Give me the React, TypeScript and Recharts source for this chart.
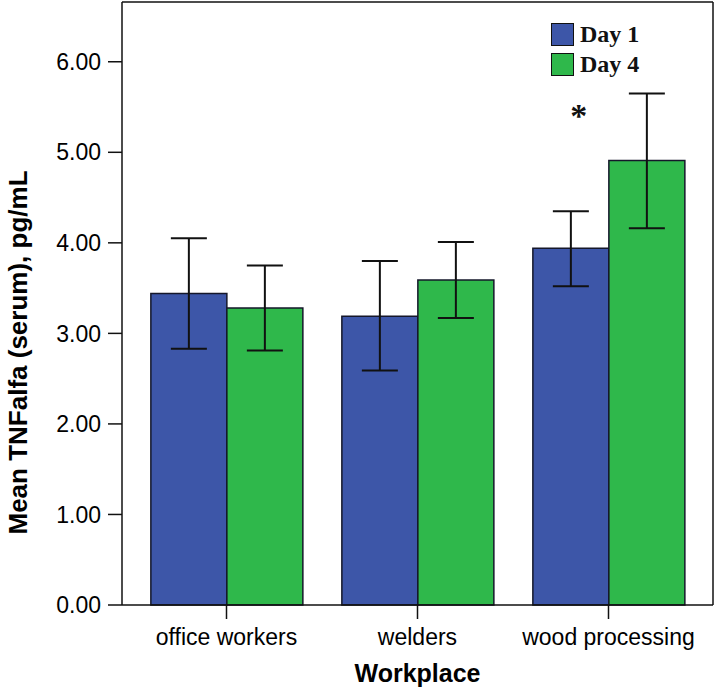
import React from 'react';
import { BarChart, Bar, XAxis, YAxis, ErrorBar, Legend, LabelList } from 'recharts';

// values
const workplaces = ['office workers', 'welders', 'wood processing'];
const day1Mean = [3.44, 3.19, 3.94];
const day1Low = [2.83, 2.59, 3.52];
const day1High = [4.05, 3.8, 4.35];
const day4Mean = [3.28, 3.59, 4.91];
const day4Low = [2.81, 3.17, 4.16];
const day4High = [3.75, 4.01, 5.65];
const significance = ['', '', '*'];
const sigLevel = [0, 0, 5.47];
const yTicks = [0, 1, 2, 3, 4, 5, 6];
const yMax = 6.66;

const data = workplaces.map((name, i) => ({
  name,
  day1: day1Mean[i],
  day4: day4Mean[i],
  day1Err: [day1Mean[i] - day1Low[i], day1High[i] - day1Mean[i]],
  day4Err: [day4Mean[i] - day4Low[i], day4High[i] - day4Mean[i]],
}));

const BLUE = '#3d56a8';
const GREEN = '#2fb84b';
const EDGE = '#15172a';
const SANS = '"Liberation Sans", Arial, sans-serif';
const SERIF = '"Liberation Serif", "Times New Roman", serif';

const LegendBox = ({ payload }: any) => (
  <div style={{ fontFamily: SERIF, fontWeight: 'bold', fontSize: 24, color: '#111' }}>
    {(payload || []).map((p: any) => (
      <div key={p.value} style={{ display: 'flex', alignItems: 'center', height: 30 }}>
        <span
          style={{
            display: 'inline-block',
            width: 21,
            height: 21,
            background: p.color,
            border: '1px solid #111',
            marginRight: 6,
          }}
        />
        {p.value}
      </div>
    ))}
  </div>
);

const YLabel = ({ viewBox }: any) => {
  const x = viewBox.x + 27;
  const y = viewBox.y + viewBox.height / 2 + 49;
  return (
    <text
      x={x}
      y={y}
      transform={`rotate(-90, ${x}, ${y})`}
      textAnchor="middle"
      fontFamily={SANS}
      fontWeight="bold"
      fontSize={26}
      fill="#000"
    >
      Mean TNFalfa (serum), pg/mL
    </text>
  );
};

// asterisk above the Day 1 bar, placed with the bar's own value scale
const SigMark = (props: any) => {
  const { x, y, width, height, index } = props;
  if (!significance[index]) return null;
  const unit = height / day1Mean[index];
  const cy = y + height - sigLevel[index] * unit;
  return (
    <text
      x={x + width / 2 + 8}
      y={cy + 17}
      textAnchor="middle"
      fontFamily={SERIF}
      fontWeight="bold"
      fontSize={34}
      fill="#111"
    >
      {significance[index]}
    </text>
  );
};

const App: React.FC = () => {
  return (
    <div style={{ position: 'absolute', left: 0, top: 0, background: '#fff' }}>
      <BarChart
        width={716}
        height={694}
        data={data}
        margin={{ top: 1, right: 2, left: 0, bottom: 0 }}
        barCategoryGap="10.4%"
        barGap={0}
      >
        <XAxis
          dataKey="name"
          height={89}
          padding={{ left: 9, right: 9 }}
          tickSize={14}
          tickMargin={10}
          stroke="#111"
          strokeWidth={1.5}
          tick={{ fill: '#000', fontSize: 23, fontFamily: SANS }}
          label={{
            value: 'Workplace',
            position: 'insideBottom',
            offset: 12,
            fill: '#000',
            fontSize: 25,
            fontWeight: 'bold',
            fontFamily: SANS,
          }}
        />
        {/* top and right frame lines */}
        <XAxis
          xAxisId="top"
          dataKey="name"
          orientation="top"
          height={1}
          tick={false}
          tickLine={false}
          axisLine={{ stroke: '#111', strokeWidth: 1.5 }}
        />
        <YAxis
          width={122}
          domain={[0, yMax]}
          ticks={yTicks}
          tickFormatter={(v: number) => v.toFixed(2)}
          tickSize={14}
          tickMargin={7}
          stroke="#111"
          strokeWidth={1.5}
          tick={{ fill: '#000', fontSize: 23, fontFamily: SANS }}
          label={<YLabel />}
        />
        <YAxis
          yAxisId="right"
          orientation="right"
          width={1}
          domain={[0, yMax]}
          tick={false}
          tickLine={false}
          axisLine={{ stroke: '#111', strokeWidth: 1.5 }}
        />
        <Legend
          layout="horizontal"
          verticalAlign="middle"
          align="center"
          content={<LegendBox />}
          wrapperStyle={{ top: 19, left: 551, width: 'auto', height: 'auto' }}
        />
        <Bar dataKey="day1" name="Day 1" fill={BLUE} stroke={EDGE} strokeWidth={1.5} isAnimationActive={false}>
          <ErrorBar dataKey="day1Err" direction="y" width={18} stroke="#111" strokeWidth={2} />
          <LabelList dataKey="day1" content={<SigMark />} />
        </Bar>
        <Bar dataKey="day4" name="Day 4" fill={GREEN} stroke={EDGE} strokeWidth={1.5} isAnimationActive={false}>
          <ErrorBar dataKey="day4Err" direction="y" width={18} stroke="#111" strokeWidth={2} />
        </Bar>
      </BarChart>
    </div>
  );
};

export default App;
